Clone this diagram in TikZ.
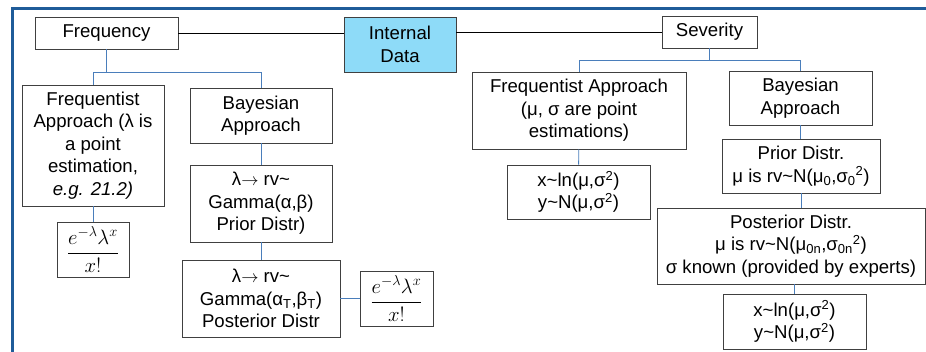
\documentclass[tikz,border=0pt]{standalone}
\usepackage{fontspec}
\setmainfont{Liberation Sans}
\usetikzlibrary{positioning}
\definecolor{boxline}{HTML}{404040}
\definecolor{linkblue}{HTML}{4A7EBB}
\definecolor{frameblue}{HTML}{1F5C99}
\definecolor{datafill}{HTML}{8EDBF8}
\newcommand{\tl}{\textasciitilde}
\newcommand{\arr}{$\rightarrow$}
\begin{document}
\begin{tikzpicture}[x=1pt, y=-1pt,
    box/.style={draw=boxline, line width=0.9pt, inner sep=0pt, align=center,
      font=\fontsize{18.6}{22.5}\selectfont},
    fml/.style={box, font=\fontsize{21}{24}\selectfont},
    link/.style={draw=linkblue, line width=0.9pt},
    mainline/.style={draw=black, line width=0.8pt},
    frame/.style={draw=frameblue, line width=3pt}]
    \useasboundingbox (0,0) rectangle (926,352);
    \draw[frame] (12,352) -- (12,9) -- (926,9);

    % top row
    \node[box, minimum width=143, minimum height=32] (freq) at (106.5,33) {Frequency};
    \node[box, fill=datafill, minimum width=112, minimum height=55] (intdata) at (400,44.5) {Internal\\Data};
    \node[box, minimum width=95, minimum height=32] (sev) at (709.5,32) {Severity};
    \draw[mainline] (freq.east) -- (freq.east -| intdata.west);
    \draw[mainline] (intdata.east |- sev.west) -- (sev.west);

    % frequency side
    \node[box, minimum width=142, minimum height=121] (fqappr) at (93,145.5)
      {Frequentist\\Approach (λ is\\a point\\estimation,\\\textit{e.g. 21.2)}};
    \node[fml, minimum width=72, minimum height=55] (fqfml) at (93,249.5)
      {$\displaystyle\frac{e^{-\lambda}\lambda^{x}}{x!}$};
    \node[box, minimum width=142, minimum height=55] (byappr) at (261,115.5) {Bayesian\\Approach};
    \node[box, minimum width=142, minimum height=77] (byprior) at (261,203.5)
      {λ\arr\ rv\tl\\Gamma(α,β)\\Prior Distr)};
    \node[box, minimum width=158, minimum height=77] (bypost) at (261,298.5)
      {λ\arr\ rv\tl\\Gamma(α\textsubscript{T},β\textsubscript{T})\\Posterior Distr};
    \node[fml, minimum width=73, minimum height=55] (byfml) at (396.5,298.5)
      {$\displaystyle\frac{e^{-\lambda}\lambda^{x}}{x!}$};

    \path (freq.south) ++(0,23) coordinate (fbar);
    \draw[link] (freq.south) -- (fbar);
    \draw[link] (fqappr.north) |- (fbar) -| (byappr.north);
    \draw[link] (fqappr) -- (fqfml);
    \draw[link] (byappr) -- (byprior);
    \draw[link] (byprior) -- (bypost);
    \draw[link] (bypost) -- (byfml);

    % severity side
    \node[box, minimum width=214, minimum height=77] (sfqappr) at (579,110.5)
      {Frequentist Approach\\(μ, σ are point\\estimations)};
    \node[box, minimum width=143, minimum height=54] (slogn) at (578.5,192)
      {x\tl ln(μ,σ\textsuperscript{2})\\y\tl N(μ,σ\textsuperscript{2})};
    \node[box, minimum width=143, minimum height=54] (sbyappr) at (800.5,98) {Bayesian\\Approach};
    \node[box, minimum width=158, minimum height=54] (sbyprior) at (801,166)
      {Prior Distr.\\μ is rv\tl N(μ\textsubscript{0},σ\textsubscript{0}\textsuperscript{2})};
    \node[box, minimum width=268, minimum height=76] (sbypost) at (791,246)
      {Posterior Distr.\\μ is rv\tl N(μ\textsubscript{0n},σ\textsubscript{0n}\textsuperscript{2})\\σ known (provided by experts)};
    \node[box, minimum width=143, minimum height=55] (slogntwo) at (794.5,321.5)
      {x\tl ln(μ,σ\textsuperscript{2})\\y\tl N(μ,σ\textsuperscript{2})};

    \path (sev.south) ++(0,12) coordinate (sbar);
    \draw[link] (sev.south) -- (sbar);
    \draw[link] (sfqappr.north) |- (sbar) -| (sbyappr.north);
    \draw[link] (sfqappr) -- (slogn);
    \draw[link] (sbyappr.south) -- (sbyprior.north -| sbyappr.south);
    \draw[link] (sbyprior.south) -- (sbypost.north -| sbyprior.south);
    \draw[link] (slogntwo.north) -- (sbypost.south -| slogntwo.north);
\end{tikzpicture}
\end{document}
